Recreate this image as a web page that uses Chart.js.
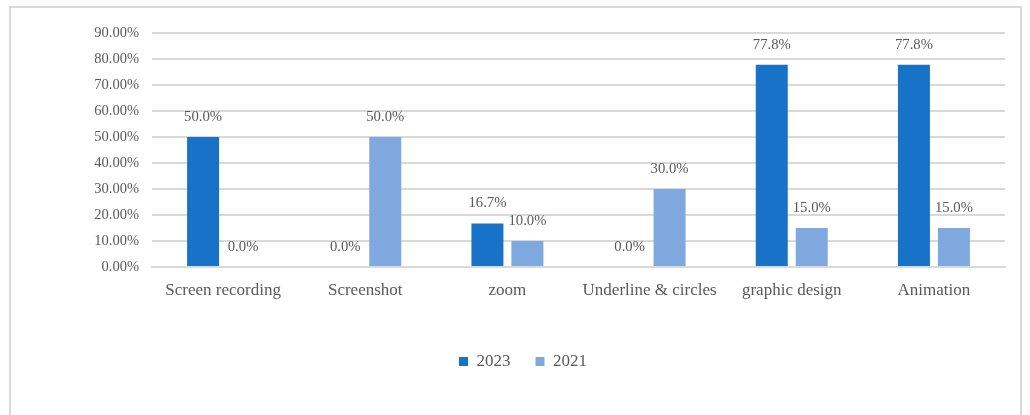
<!DOCTYPE html>
<html>
<head>
<meta charset="utf-8">
<script src="https://cdn.jsdelivr.net/npm/chart.js@4.4.0/dist/chart.umd.min.js"></script>
<style>
    body { margin: 0; background: #fff; }
    #frame {
        position: absolute; left: 9px; top: 6px; width: 1013px; height: 420px;
        border: 2px solid #d9d9d9; box-sizing: border-box;
    }
    #wrap { position: absolute; left: 0; top: 0; width: 1030px; height: 415px; }
</style>
</head>
<body>
<div id="frame"></div>
<div id="wrap"><canvas id="barChart" width="1030" height="415"></canvas></div>
<script>
// Data
const categories = ["Screen recording", "Screenshot", "zoom", "Underline & circles", "graphic design", "Animation"];
const values2023 = [0.5, 0, 0.167, 0, 0.778, 0.778];
const values2021 = [0, 0.5, 0.1, 0.3, 0.15, 0.15];
const yTicks = [0, 0.1, 0.2, 0.3, 0.4, 0.5, 0.6, 0.7, 0.8, 0.9];

const textColor = "#595959";
const serif = "'Liberation Serif', 'Times New Roman', serif";

// labels above the bars
const barLabels = {
    id: "barLabels",
    afterDatasetsDraw(chart) {
        const ctx = chart.ctx;
        ctx.save();
        ctx.fillStyle = textColor;
        ctx.font = "14.7px " + serif;
        ctx.textAlign = "center";
        ctx.textBaseline = "middle";
        chart.data.datasets.forEach((ds, i) => {
            chart.getDatasetMeta(i).data.forEach((bar, j) => {
                ctx.fillText((ds.data[j] * 100).toFixed(1) + "%", bar.x, bar.y - 20);
            });
        });
        ctx.restore();
    },
};

const barChart = document.getElementById("barChart");
new Chart(barChart, {
    type: "bar",
    data: {
        labels: categories,
        datasets: [
            {
                label: "2023",
                data: values2023,
                backgroundColor: "#1772c8",
                categoryPercentage: 0.5625,
                barPercentage: 0.8,
            },
            {
                label: "2021",
                data: values2021,
                backgroundColor: "#7fa9de",
                categoryPercentage: 0.5625,
                barPercentage: 0.8,
            },
        ],
    },
    options: {
        responsive: false,
        animation: false,
        layout: {
            padding: { left: 41, right: 25, top: 33, bottom: 35 },
        },
        scales: {
            x: {
                afterFit: (scale) => { scale.height = 61; },
                grid: { display: false },
                border: { display: true, color: "#d9d9d9", width: 2 },
                ticks: {
                    color: textColor,
                    font: { family: serif, size: 17 },
                    padding: 5,
                    maxRotation: 0,
                },
            },
            y: {
                min: 0,
                max: 0.9,
                afterFit: (scale) => { scale.width = 111; },
                afterBuildTicks: (scale) => {
                    scale.ticks = yTicks.map((v) => ({ value: v }));
                },
                grid: { color: "#d9d9d9", lineWidth: 2, drawTicks: false },
                border: { display: false },
                ticks: {
                    color: textColor,
                    font: { family: serif, size: 14.5 },
                    padding: 13,
                    callback: (v) => (v * 100).toFixed(2) + "%",
                },
            },
        },
        plugins: {
            legend: {
                position: "bottom",
                labels: {
                    color: textColor,
                    font: { family: serif, size: 17 },
                    boxWidth: 9,
                    boxHeight: 9,
                    padding: 25,
                },
            },
            tooltip: { enabled: false },
        },
    },
    plugins: [barLabels],
});
</script>
</body>
</html>
